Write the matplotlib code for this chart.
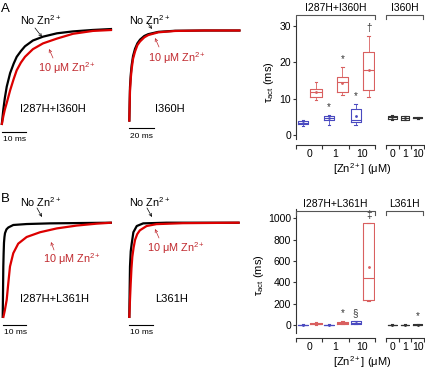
import matplotlib
matplotlib.use('Agg')
import matplotlib.pyplot as plt

W, H = 425, 371

plt.rcParams['font.family'] = ['Liberation Sans', 'DejaVu Sans']
plt.rcParams['mathtext.fontset'] = 'custom'
plt.rcParams['mathtext.rm'] = 'Liberation Sans'
plt.rcParams['mathtext.it'] = 'Liberation Sans:italic'
plt.rcParams['mathtext.bf'] = 'Liberation Sans:bold'

# ---- current traces: time (ms), normalized current ----
a1_t_ctrl = [0, 0.3, 0.67, 1.3, 2.1, 3.5, 5, 6.25, 8, 9.7, 13, 17.2, 23, 29.7, 38, 46]
a1_i_ctrl = [0, 0.07, 0.16, 0.28, 0.40, 0.54, 0.64, 0.71, 0.77, 0.82, 0.88, 0.92, 0.955, 0.975, 0.99, 1.0]
a1_t_zn = [0, 0.67, 1.3, 2.1, 3.5, 5, 6.25, 8, 9.7, 13, 17.2, 23, 29.7, 38, 46]
a1_i_zn = [0, 0.09, 0.16, 0.23, 0.36, 0.48, 0.57, 0.65, 0.71, 0.79, 0.85, 0.90, 0.95, 0.98, 0.99]

a2_t_ctrl = [0, 0.3, 0.56, 1.2, 1.9, 3, 4.6, 6.5, 8.6, 12, 15.2, 23.2, 36.6, 60, 89]
a2_i_ctrl = [0, 0.22, 0.38, 0.52, 0.62, 0.72, 0.80, 0.86, 0.90, 0.94, 0.96, 0.985, 0.997, 1.0, 1.0]
a2_t_zn = [0, 0.3, 0.56, 1.2, 1.9, 3, 4.6, 6.5, 8.6, 12, 15.2, 23.2, 36.6, 60, 89]
a2_i_zn = [0, 0.19, 0.34, 0.48, 0.58, 0.69, 0.77, 0.84, 0.88, 0.925, 0.95, 0.98, 0.995, 1.0, 1.0]

b1_t_ctrl = [0, 0.15, 0.26, 0.4, 0.55, 0.75, 0.98, 1.6, 2.4, 4.5, 10.2, 20.1, 46.5]
b1_i_ctrl = [0, 0.3, 0.54, 0.68, 0.79, 0.85, 0.89, 0.93, 0.95, 0.976, 0.986, 0.993, 1.0]
b1_t_zn = [0.2, 0.9, 1.7, 2.4, 3.1, 4.5, 6.6, 10.2, 15.9, 23, 31.5, 40, 46.4]
b1_i_zn = [0, 0.08, 0.19, 0.37, 0.54, 0.68, 0.78, 0.85, 0.90, 0.94, 0.97, 0.99, 1.0]

b2_t_ctrl = [0, 0.15, 0.29, 0.6, 1.0, 1.7, 3.1, 5.8, 15.5, 46]
b2_i_ctrl = [0, 0.3, 0.54, 0.7, 0.78, 0.90, 0.965, 0.993, 1.0, 1.0]
b2_t_zn = [0, 0.3, 0.58, 0.9, 1.25, 1.8, 2.4, 3.3, 4.4, 7.2, 11.3, 22.3, 46]
b2_i_zn = [0, 0.2, 0.36, 0.52, 0.64, 0.74, 0.82, 0.88, 0.92, 0.965, 0.985, 0.995, 1.0]

# ---- tau_act box summaries: low whisker, q1, median, q3, high whisker, mean ----
zn_labels = ['0', '1', '10']
a_blue = [[2.6, 3.0, 3.4, 3.8, 4.3, 3.4], [2.7, 4.2, 4.6, 5.3, 5.6, 4.6], [2.7, 3.5, 4.2, 7.1, 8.6, 5.4]]
a_red = [[9.7, 10.5, 11.9, 12.6, 14.7, 12.0], [11.0, 11.9, 14.6, 15.9, 18.8, 14.3], [10.4, 12.4, 17.9, 22.9, 27.3, 17.9]]
a_wt = [[4.3, 4.4, 4.9, 5.4, 5.6, 4.9], [4.2, 4.3, 4.7, 5.2, 5.3, 4.7], [4.5, 4.6, 4.75, 4.9, 5.0, 4.75]]
a_blue_marks = ['', '*', '*']
a_red_marks = ['', '*', '\u2020']
a_wt_marks = ['', '', '']

b_blue = [[1, 2, 3, 4, 5, 3], [1, 2, 3, 4, 6, 3], [8, 12, 22, 35, 40, 22]]
b_red = [[3, 6, 10, 18, 25, 11], [8, 12, 20, 30, 40, 20], [228, 232, 440, 955, 960, 540]]
b_wt = [[1, 2, 3, 4, 6, 3], [1, 2, 3, 4, 6, 3], [1, 2, 4, 6, 8, 4]]
b_blue_marks = ['', '', '\u00a7']
b_red_marks = ['', '*', '\u2021']
b_wt_marks = ['', '', '*']

BLUE = '#4a4ac0'
RED = '#d96060'
GRAY = '#333333'
TRACE_RED = '#dc0000'
TEXT_RED = '#c0282d'


def frac(x, y):
    return (x / W, 1 - y / H)


def rect(x0, y0, x1, y1):
    return [x0 / W, 1 - y1 / H, (x1 - x0) / W, (y1 - y0) / H]


fig = plt.figure(figsize=(W / 100, H / 100), dpi=100)


def trace_ax(x0, pxms, y0, pxunit, tmax, t1, i1, t2, i2, bar_ms, bar_label):
    tmin, ymin, ymax = -1, -0.1, 1.1
    ax = fig.add_axes(rect(x0 + tmin * pxms, y0 - ymax * pxunit,
                           x0 + tmax * pxms, y0 - ymin * pxunit))
    ax.set_xlim(tmin, tmax)
    ax.set_ylim(ymin, ymax)
    ax.axis('off')
    ax.plot(t1, i1, color='black', lw=1.6, solid_capstyle='butt')
    ax.plot(t2, i2, color=TRACE_RED, lw=1.6, solid_capstyle='butt')
    ybar = -6.5 / pxunit
    ax.plot([0, bar_ms], [ybar, ybar], color='black', lw=0.8, clip_on=False)
    ax.text(0.5, -16 / pxunit, bar_label, fontsize=6, va='baseline', ha='left')
    return ax


trace_ax(1.7, 2.4, 125, 96, 47, a1_t_ctrl, a1_i_ctrl, a1_t_zn, a1_i_zn, 10, '10 ms')
trace_ax(129.3, 1.25, 121.7, 91.2, 90, a2_t_ctrl, a2_i_ctrl, a2_t_zn, a2_i_zn, 20, '20 ms')
trace_ax(2.7, 2.35, 318, 95.3, 47.5, b1_t_ctrl, b1_i_ctrl, b1_t_zn, b1_i_zn, 10, '10 ms')
trace_ax(129.3, 2.4, 318, 95.3, 47, b2_t_ctrl, b2_i_ctrl, b2_t_zn, b2_i_zn, 10, '10 ms')


def label(x, y, s, color='black', size=7.5, **kw):
    fig.text(*frac(x, y), s, color=color, fontsize=size, va='baseline', **kw)


def arrow(x0, y0, x1, y1, color):
    fig.add_artist(matplotlib.patches.FancyArrowPatch(
        frac(x0, y0), frac(x1, y1), transform=fig.transFigure,
        arrowstyle='->', mutation_scale=5, lw=0.5, color=color,
        shrinkA=0, shrinkB=0))


zn = 'Zn$^{2+}$'
label(1, 12, 'A', size=9.5)
label(1, 202, 'B', size=9.5)
for (xn, yn, xz, yz, xg, yg, name) in [(20, 25, 38, 72, 20, 112, 'I287H+I360H'),
                                       (129, 25, 148, 62, 155, 112, 'I360H'),
                                       (20, 207, 43, 263, 20, 302, 'I287H+L361H'),
                                       (129, 207, 147, 252, 155, 302, 'L361H')]:
    label(xn, yn, 'No ' + zn, size=7.8)
    label(xz, yz, '10 \u03bcM ' + zn, color=TEXT_RED, size=7.8)
    label(xg, yg, name, size=8)

arrow(35, 28, 42, 37, 'black')
arrow(53, 58, 49, 49, TEXT_RED)
arrow(147, 22, 152, 29, 'black')
arrow(159, 47, 155, 38, TEXT_RED)
arrow(37, 208, 42, 217, 'black')
arrow(54, 250, 51, 242, TEXT_RED)
arrow(147, 208, 152, 217, 'black')
arrow(159, 238, 155, 229, TEXT_RED)


def stats_of(rows):
    return [dict(whislo=r[0], q1=r[1], med=r[2], q3=r[3], whishi=r[4], mean=r[5],
                 fliers=[]) for r in rows]


def draw_boxes(ax, rows, positions, color, width, marks):
    ax.bxp(stats_of(rows), positions=positions, widths=width, showmeans=True,
           manage_ticks=False, capwidths=width * 0.25,
           boxprops=dict(color=color, lw=0.8),
           whiskerprops=dict(color=color, lw=0.6),
           capprops=dict(color=color, lw=0.8),
           medianprops=dict(color=color, lw=0.8),
           meanprops=dict(marker='.', ms=2, mfc=color, mec=color))
    for p, r, m in zip(positions, rows, marks):
        if m:
            ax.annotate(m, (p, r[4]), xytext=(0, 2), textcoords='offset points',
                        ha='center', va='bottom', fontsize=7, color=GRAY)


def box_axes(x0, x1, ytop, ybot, ylim, xspine_px, show_y):
    ax = fig.add_axes(rect(x0, ytop, x1, ybot))
    ax.set_xlim(0, 3)
    ax.set_ylim(*ylim)
    for s in ['top', 'right']:
        ax.spines[s].set_visible(False)
    ax.spines['bottom'].set_position(('outward', xspine_px * 0.72))
    for s in ['left', 'bottom']:
        ax.spines[s].set_color(GRAY)
        ax.spines[s].set_linewidth(0.8)
    ax.set_xticks([0, 1, 2, 3])
    ax.set_xticklabels([])
    ax.set_xticks([0.5, 1.5, 2.5], minor=True)
    ax.set_xticklabels(zn_labels, minor=True)
    ax.tick_params(axis='x', which='major', length=3, width=0.8, color=GRAY)
    ax.tick_params(axis='x', which='minor', length=0, pad=3, labelsize=7.5)
    if show_y:
        ax.tick_params(axis='y', length=2.5, width=0.8, color=GRAY, pad=1, labelsize=7.5)
    else:
        ax.spines['left'].set_visible(False)
        ax.set_yticks([])
    ax.patch.set_alpha(0)
    return ax


def bracket(x0, x1, y, text):
    fig.add_artist(plt.Line2D([x0 / W, x0 / W, x1 / W, x1 / W],
                              [1 - (y + 3.5) / H, 1 - y / H, 1 - y / H, 1 - (y + 3.5) / H],
                              transform=fig.transFigure, color='#555555', lw=0.8))
    fig.text(*frac((x0 + x1) / 2, y - 4), text, ha='center', va='baseline', fontsize=7.5)


blue_pos = [0.26, 1.26, 2.26]
red_pos = [0.76, 1.76, 2.76]
wt_pos = [0.5, 1.5, 2.5]

# panel A box plots
ax = box_axes(296, 375, 20.2, 139, (-1.04, 31.6), 6, True)
ax.set_yticks([0, 10, 20, 30])
draw_boxes(ax, a_blue, blue_pos, BLUE, 0.38, a_blue_marks)
draw_boxes(ax, a_red, red_pos, RED, 0.42, a_red_marks)
ax = box_axes(386, 424, 20.2, 139, (-1.04, 31.6), 6, False)
draw_boxes(ax, a_wt, wt_pos, GRAY, 0.7, a_wt_marks)

# panel B box plots
ax = box_axes(296, 375, 209, 333, (-75, 1087), 5, True)
ax.set_yticks([0, 200, 400, 600, 800, 1000])
draw_boxes(ax, b_blue, blue_pos, BLUE, 0.38, b_blue_marks)
draw_boxes(ax, b_red, red_pos, RED, 0.42, b_red_marks)
ax = box_axes(386, 424, 209, 333, (-75, 1087), 5, False)
draw_boxes(ax, b_wt, wt_pos, GRAY, 0.7, b_wt_marks)

bracket(296, 375, 15, 'I287H+I360H')
bracket(386, 423, 15, 'I360H')
bracket(296, 375, 211, 'I287H+L361H')
bracket(386, 423, 211, 'L361H')

for yb in [173, 366]:
    fig.text(*frac(362, yb), '[' + zn + '] (\u03bcM)', ha='center', va='baseline', fontsize=8)
fig.text(*frac(269, 82), '\u03c4$_{\\mathrm{act}}$ (ms)', rotation=90, ha='center', va='center', fontsize=8)
fig.text(*frac(259, 275), '\u03c4$_{\\mathrm{act}}$ (ms)', rotation=90, ha='center', va='center', fontsize=8)

fig.savefig('out.png', dpi=100)
